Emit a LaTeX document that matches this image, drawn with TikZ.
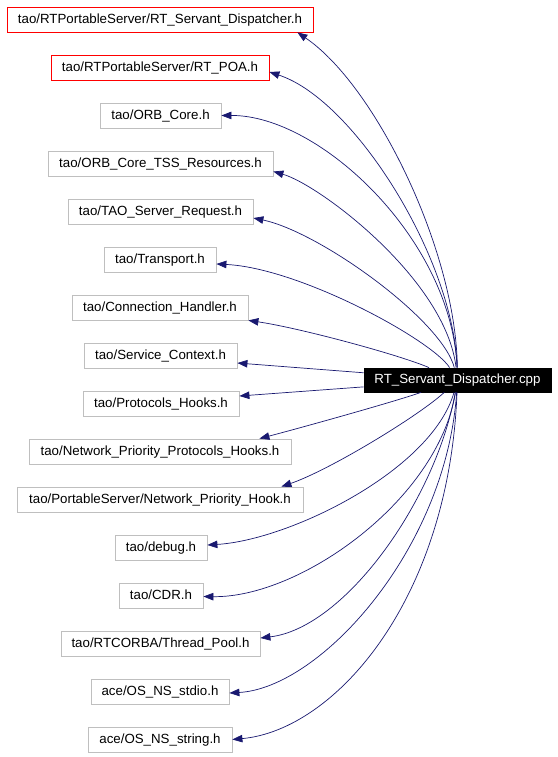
\documentclass[tikz,border=0pt]{standalone}
\usepackage{fontspec}
\setmainfont{Liberation Sans}
\usetikzlibrary{arrows.meta}
\definecolor{edgeblue}{HTML}{191970}
\definecolor{boxgray}{HTML}{BFBFBF}
\begin{document}
\begin{tikzpicture}[x=1pt,y=-1pt,
  hbox/.style={draw=boxgray, line width=0.8pt, minimum height=25pt, inner sep=0pt, text height=9.6pt, text depth=2.4pt, font=\fontsize{13.3}{15}\selectfont},
  redbox/.style={hbox, draw=red},
  mainbox/.style={hbox, draw=black, fill=black, text=white, minimum height=24pt},
  edge/.style={draw=edgeblue, line width=0.7pt, -{Triangle[length=10pt,width=7.5pt]}}]
\useasboundingbox (0,0) rectangle (557,757);
\node[redbox, minimum width=306pt] (b1) at (160,19.5) {tao/RTPortableServer/RT\_Servant\_Dispatcher.h};
\node[redbox, minimum width=218pt] (b2) at (160,68) {tao/RTPortableServer/RT\_POA.h};
\node[hbox, minimum width=121pt] (b3) at (160.5,115.5) {tao/ORB\_Core.h};
\node[hbox, minimum width=225pt] (b4) at (160.5,163.5) {tao/ORB\_Core\_TSS\_Resources.h};
\node[hbox, minimum width=185pt] (b5) at (160.5,211.5) {tao/TAO\_Server\_Request.h};
\node[hbox, minimum width=112pt] (b6) at (160,259.5) {tao/Transport.h};
\node[hbox, minimum width=176pt] (b7) at (160,307.5) {tao/Connection\_Handler.h};
\node[hbox, minimum width=153pt] (b8) at (160.5,355.5) {tao/Service\_Context.h};
\node[hbox, minimum width=156pt] (b9) at (161,403.5) {tao/Protocols\_Hooks.h};
\node[hbox, minimum width=262pt] (b10) at (160,451.5) {tao/Network\_Priority\_Protocols\_Hooks.h};
\node[hbox, minimum width=286pt] (b11) at (160,499.5) {tao/PortableServer/Network\_Priority\_Hook.h};
\node[hbox, minimum width=92pt] (b12) at (161,547.5) {tao/debug.h};
\node[hbox, minimum width=84pt] (b13) at (161,595.5) {tao/CDR.h};
\node[hbox, minimum width=199pt] (b14) at (160.5,643.5) {tao/RTCORBA/Thread\_Pool.h};
\node[hbox, minimum width=138pt] (b15) at (160,691.5) {ace/OS\_NS\_stdio.h};
\node[hbox, minimum width=144pt] (b16) at (160,739.5) {ace/OS\_NS\_string.h};
\node[mainbox, minimum width=187pt] (main) at (457.5,380) {RT\_Servant\_Dispatcher.cpp};

\draw[edge] (main) .. controls (456,250) and (375,85) .. ([xshift=-16pt]b1.south east);
\draw[edge] (main) .. controls (454,260) and (355,100) .. ([yshift=-4pt]b2.east);
\draw[edge] (main) .. controls (452,240) and (320,115) .. (b3.east);
\draw[edge] (main) .. controls (446,280) and (320,185) .. ([yshift=-8pt]b4.east);
\draw[edge] (main) .. controls (442,320) and (320,232) .. ([yshift=-6.5pt]b5.east);
\draw[edge] (main) .. controls (432,340) and (300,268) .. ([yshift=-4.5pt]b6.east);
\draw[edge] (main) .. controls (400,355) and (300,328) .. (b7.south east);
\draw[edge] (main) -- ([yshift=-7.5pt]b8.east);
\draw[edge] (main) -- ([yshift=7.5pt]b9.east);
\draw[edge] (main) .. controls (390,403) and (300,428) .. ([xshift=-32pt]b10.north east);
\draw[edge] (main) .. controls (420,415) and (330,470) .. ([xshift=-22pt]b11.north east);
\draw[edge] (main) .. controls (432,470) and (290,540) .. ([yshift=2.5pt]b12.east);
\draw[edge] (main) .. controls (438,500) and (300,598) .. ([yshift=-1pt]b13.east);
\draw[edge] (main) .. controls (436,500) and (345,628) .. ([yshift=5.5pt]b14.east);
\draw[edge] (main) .. controls (446,550) and (320,688) .. ([yshift=-1.5pt]b15.east);
\draw[edge] (main) .. controls (449,600) and (335,730) .. (b16.east);
\end{tikzpicture}
\end{document}
